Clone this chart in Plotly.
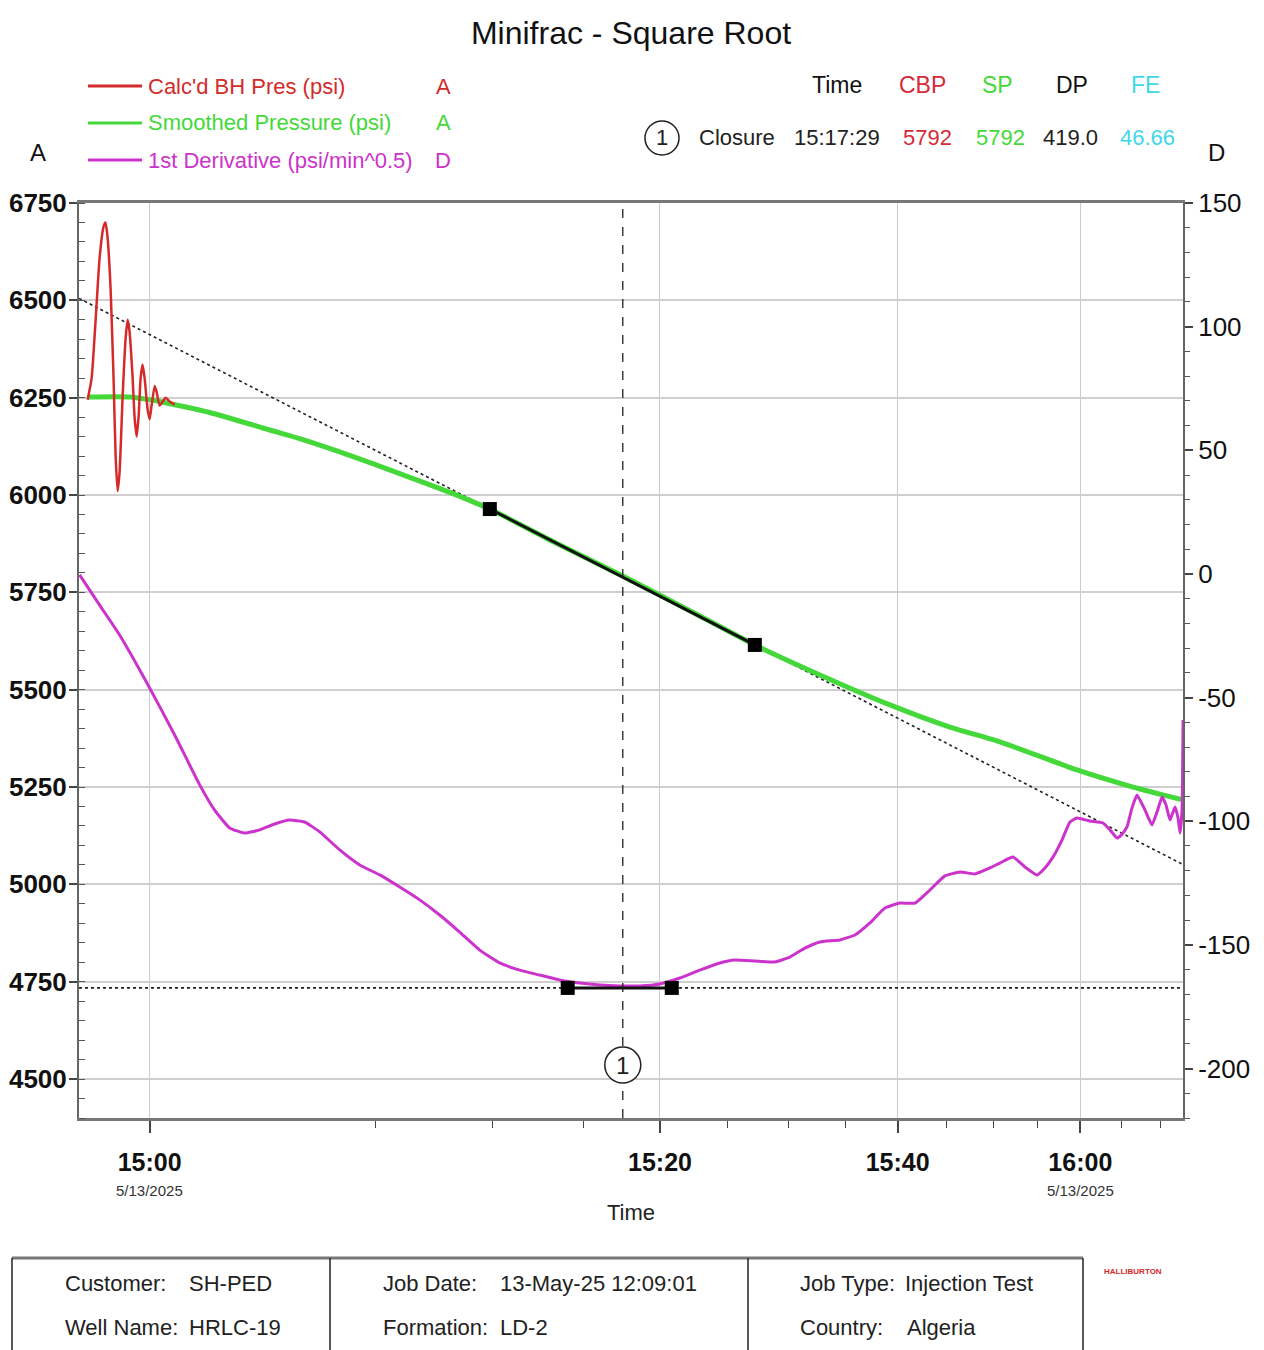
import numpy as np
import plotly.graph_objects as go

# ---------------- data ----------------
SHUT_IN = "14:59:42"
END_TIME = "16:13:00"
CLOSURE_TIME = "15:17:29"

# x values: square root of minutes since shut-in (min^0.5)
red_s = [0.067, 0.098, 0.129, 0.160, 0.191, 0.206, 0.222, 0.245, 0.268, 0.284, 0.299,
         0.315, 0.338, 0.361, 0.377, 0.392, 0.416, 0.431, 0.447, 0.462, 0.478, 0.493,
         0.509, 0.532, 0.548, 0.563, 0.587, 0.602, 0.625, 0.649, 0.672, 0.703, 0.742]
red_psi = [6245, 6300, 6450, 6610, 6690, 6700, 6660, 6530, 6300, 6100, 6010,
           6060, 6250, 6400, 6450, 6420, 6300, 6200, 6150, 6200, 6300, 6335,
           6300, 6220, 6195, 6230, 6280, 6265, 6230, 6240, 6250, 6240, 6232]

green_s = [0.067, 0.393, 0.548, 0.625, 1.013, 1.479, 1.711, 2.099, 2.487, 2.875, 3.186,
           3.69, 4.217, 4.737, 5.241, 5.746, 6.289, 6.754, 7.142, 7.739, 8.174, 8.562]
green_psi = [6252, 6252, 6245, 6240, 6212, 6167, 6145, 6102, 6055, 6007, 5964,
             5878, 5792, 5703, 5615, 5538, 5461, 5404, 5366, 5294, 5250, 5217]

deriv_s = [0.005, 0.160, 0.315, 0.548, 0.742, 0.936, 1.052, 1.168, 1.285, 1.401, 1.517,
           1.634, 1.750, 1.867, 2.022, 2.177, 2.332, 2.487, 2.642, 2.797, 2.952, 3.108,
           3.263, 3.418, 3.573, 3.728, 3.883, 4.038, 4.194, 4.349, 4.504, 4.659, 4.814,
           4.970, 5.086, 5.241, 5.396, 5.513, 5.629, 5.746, 5.901, 6.017, 6.134, 6.250,
           6.366, 6.483, 6.599, 6.715, 6.832, 6.948, 7.064, 7.142, 7.243, 7.336, 7.429,
           7.491, 7.553, 7.623, 7.685, 7.739, 7.840, 7.941, 7.995, 8.050, 8.089, 8.127,
           8.166, 8.205, 8.267, 8.321, 8.360, 8.399, 8.430, 8.461, 8.500, 8.523, 8.539,
           8.554, 8.562]
deriv_val = [-0.4, -12.6, -24.7, -46.1, -65.1, -85.3, -95.5, -102.7, -104.8, -103.5, -101.1,
             -99.5, -100.3, -104.3, -111.6, -117.7, -121.7, -126.6, -131.8, -137.9, -144.8, -152.1,
             -157.3, -160.2, -162.2, -164.2, -165.4, -166.2, -166.6, -166.6, -165.8, -163.4, -160.2,
             -157.3, -156.1, -156.5, -156.9, -154.9, -151.3, -148.8, -148.0, -146.0, -141.1, -135.1,
             -133.1, -133.1, -127.8, -122.1, -120.5, -121.3, -118.9, -116.9, -114.5, -118.5, -121.7,
             -118.9, -114.5, -107.6, -100.3, -98.7, -99.9, -100.7, -103.5, -106.8, -105.2, -102.3,
             -94.6, -89.4, -95.5, -101.5, -96.3, -90.2, -93.4, -99.5, -94.2, -98.7, -104.8,
             -95.5, -59.1]

tangent_s = [3.186, 5.241]       # picked points on smoothed pressure
tangent_psi = [5964, 5615]
flat_s = [3.790, 4.597]          # picked points on derivative
flat_val = [-167.4, -167.4]
closure_label_val = -198.6

major_ticks = ["15:00:00", "15:20:00", "15:40:00", "16:00:00"]
major_labels = ["15:00", "15:20", "15:40", "16:00"]
major_dates = ["5/13/2025", "", "", "5/13/2025"]
minor_ticks = ["15:05:00", "15:10:00", "15:15:00", "15:25:00", "15:30:00", "15:35:00",
               "15:45:00", "15:50:00", "15:55:00", "16:05:00", "16:10:00"]

left_ticks = [4500, 4750, 5000, 5250, 5500, 5750, 6000, 6250, 6500, 6750]
right_ticks = [-200, -150, -100, -50, 0, 50, 100, 150]

# ---------------- helpers ----------------
def minutes(hms):
    h, m, s = (int(v) for v in hms.split(":"))
    return h * 60 + m + s / 60.0


def sqrt_elapsed(hms):
    return float(np.sqrt(minutes(hms) - minutes(SHUT_IN)))


W, H = 1264, 1350
PL, PR, PT, PB = 79, 1183, 203, 1118


def pxx(x):
    return (x - PL) / (PR - PL)


def pyy(y):
    return (PB - y) / (PB - PT)


FONT = "Liberation Sans, Arial, sans-serif"
RED = "#d42a2a"
GREEN = "#45d83a"
MAG = "#cc33cc"
CYAN = "#3fd8e8"

xmax = sqrt_elapsed(END_TIME)
closure_x = sqrt_elapsed(CLOSURE_TIME)

# tangent line extended across the whole axis
slope = (tangent_psi[1] - tangent_psi[0]) / (tangent_s[1] - tangent_s[0])
ext_s = np.array([0.0, xmax])
ext_psi = tangent_psi[0] + slope * (ext_s - tangent_s[0])

fig = go.Figure()

fig.add_trace(go.Scatter(x=ext_s, y=ext_psi, mode="lines",
                         line=dict(color="#222", width=1.6, dash="dot"),
                         hoverinfo="skip", showlegend=False))
fig.add_trace(go.Scatter(x=green_s, y=green_psi, mode="lines", name="Smoothed Pressure (psi)",
                         line=dict(color=GREEN, width=5, shape="spline", smoothing=0.6),
                         showlegend=False))
fig.add_trace(go.Scatter(x=red_s, y=red_psi, mode="lines", name="Calc'd BH Pres (psi)",
                         line=dict(color=RED, width=2.5, shape="spline", smoothing=0.5),
                         showlegend=False))
fig.add_trace(go.Scatter(x=tangent_s, y=tangent_psi, mode="lines+markers",
                         line=dict(color="#111", width=3),
                         marker=dict(symbol="square", size=14, color="#000"),
                         showlegend=False))
fig.add_trace(go.Scatter(x=deriv_s, y=deriv_val, mode="lines", yaxis="y2",
                         name="1st Derivative (psi/min^0.5)",
                         line=dict(color=MAG, width=3, shape="spline", smoothing=0.4),
                         showlegend=False))
fig.add_trace(go.Scatter(x=[0, xmax], y=[flat_val[0], flat_val[0]], mode="lines", yaxis="y2",
                         line=dict(color="#222", width=1.6, dash="dot"),
                         hoverinfo="skip", showlegend=False))
fig.add_trace(go.Scatter(x=flat_s, y=flat_val, mode="lines+markers", yaxis="y2",
                         line=dict(color="#111", width=3),
                         marker=dict(symbol="square", size=14, color="#000"),
                         showlegend=False))

shapes = []
annotations = []


def note(text, x, y, size=22, color="#222", xanchor="center", xref="paper", yref="paper"):
    annotations.append(dict(x=x, y=y, xref=xref, yref=yref, text=text, showarrow=False,
                            xanchor=xanchor, yanchor="middle",
                            font=dict(family=FONT, size=size, color=color)))


# closure vertical dashed line
shapes.append(dict(type="line", xref="x", yref="paper", x0=closure_x, x1=closure_x, y0=0, y1=1,
                   line=dict(color="#222", width=1.3, dash="dash"), layer="above"))
# closure circle marker in plot
shapes.append(dict(type="circle", xref="x", yref="y2", xsizemode="pixel", ysizemode="pixel",
                   xanchor=closure_x, yanchor=closure_label_val, x0=-18, x1=18, y0=-18, y1=18,
                   line=dict(color="#222", width=1.5), fillcolor="white", layer="above"))
note("1", closure_x, closure_label_val, size=24, xref="x", yref="y2")

# legend (custom)
legend_items = [("Calc'd BH Pres (psi)", RED, "A", 86),
                ("Smoothed Pressure (psi)", GREEN, "A", 123),
                ("1st Derivative (psi/min^0.5)", MAG, "D", 160)]
for label, col, ax_letter, yy in legend_items:
    shapes.append(dict(type="line", xref="paper", yref="paper", x0=pxx(88), x1=pxx(142),
                       y0=pyy(yy), y1=pyy(yy), line=dict(color=col, width=3)))
    note(label, pxx(146), pyy(yy), color=col, xanchor="left")
    note(ax_letter, pxx(443), pyy(yy), color=col)

# axis letters
note("A", pxx(38), pyy(153), size=24, color="#111")
note("D", pxx(1216), pyy(153), size=24, color="#111")

# closure table
header = [("Time", "#111", 837), ("CBP", "#d42a3a", 922), ("SP", "#45d83a", 997),
          ("DP", "#111", 1072), ("FE", CYAN, 1145)]
for txt, col, xx in header:
    note(txt, pxx(xx), pyy(85), size=23, color=col)
row = [("Closure", "#222", 737), (CLOSURE_TIME, "#222", 837), ("5792", "#d42a3a", 927),
       ("5792", "#45d83a", 1000), ("419.0", "#222", 1070), ("46.66", CYAN, 1147)]
for txt, col, xx in row:
    note(txt, pxx(xx), pyy(138), color=col)
shapes.append(dict(type="circle", xref="paper", yref="paper", x0=pxx(645), x1=pxx(679),
                   y0=pyy(121), y1=pyy(155), line=dict(color="#222", width=1.5)))
note("1", pxx(662), pyy(138))

# dates under the time tick labels
for t, d in zip(major_ticks, major_dates):
    if d:
        note(d, sqrt_elapsed(t), pyy(1190), size=15, color="#333", xref="x")

# info box at bottom
shapes.append(dict(type="line", xref="paper", yref="paper", x0=pxx(12), x1=pxx(1083),
                   y0=pyy(1258), y1=pyy(1258), line=dict(color="#777", width=3)))
for xx in [12, 330, 748, 1083]:
    shapes.append(dict(type="line", xref="paper", yref="paper", x0=pxx(xx), x1=pxx(xx),
                       y0=pyy(1258), y1=pyy(1352), line=dict(color="#222", width=1.5)))
info = [("Customer:", 63, 1283), ("SH-PED", 187, 1283),
        ("Well Name:", 63, 1327), ("HRLC-19", 187, 1327),
        ("Job Date:", 381, 1283), ("13-May-25 12:09:01", 498, 1283),
        ("Formation:", 381, 1327), ("LD-2", 498, 1327),
        ("Job Type:", 798, 1283), ("Injection Test", 903, 1283),
        ("Country:", 798, 1327), ("Algeria", 905, 1327)]
for txt, xx, yy in info:
    note(txt, pxx(xx), pyy(yy), xanchor="left")
note("<b>HALLIBURTON</b>", pxx(1133), pyy(1271), size=8, color="#d42a2a")

tickvals = [sqrt_elapsed(t) for t in major_ticks]

fig.update_layout(
    width=W, height=H,
    margin=dict(l=PL, r=W - PR, t=PT, b=H - PB, autoexpand=False),
    paper_bgcolor="white", plot_bgcolor="white",
    title=dict(text="Minifrac - Square Root", x=0.5, xanchor="center", xref="paper",
               y=1 - 33 / H, yanchor="middle",
               font=dict(family=FONT, size=32, color="#111")),
    font=dict(family=FONT, color="#111"),
    xaxis=dict(range=[0, xmax], tickmode="array", tickvals=tickvals, ticktext=major_labels,
               automargin=False,
               showgrid=True, gridcolor="#cccccc", gridwidth=1.2, zeroline=False,
               ticks="outside", ticklen=12, tickwidth=1.5, tickcolor="#444",
               ticklabelstandoff=8,
               minor=dict(tickmode="array", tickvals=[sqrt_elapsed(t) for t in minor_ticks],
                          ticks="outside", ticklen=7, tickwidth=1.2, tickcolor="#444",
                          showgrid=False),
               showline=True, linecolor="#777", linewidth=3, mirror=True,
               tickfont=dict(family=FONT, size=25, color="#111", weight="bold"),
               title=dict(text="Time", font=dict(family=FONT, size=22, color="#222"), standoff=30)),
    yaxis=dict(range=[4400, 6750], tickmode="array", tickvals=left_ticks,
               ticktext=[str(v) for v in left_ticks], automargin=False,
               showgrid=True, gridcolor="#cfcfcf", gridwidth=1.5, zeroline=False,
               ticks="outside", ticklen=8, tickwidth=1.5, tickcolor="#444",
               ticklabelstandoff=-3,
               minor=dict(dtick=50, tick0=4500, ticks="inside", ticklen=6, tickwidth=1.2,
                          tickcolor="#555", showgrid=False),
               showline=True, linecolor="#666", linewidth=2,
               tickfont=dict(family=FONT, size=26, color="#111", weight="bold")),
    yaxis2=dict(range=[-220, 150], overlaying="y", side="right", tickmode="array",
                tickvals=right_ticks, ticktext=[str(v) for v in right_ticks], automargin=False,
                showgrid=False, zeroline=False,
                ticks="outside", ticklen=8, tickwidth=1.5, tickcolor="#444",
                minor=dict(dtick=10, tick0=-200, ticks="outside", ticklen=5, tickwidth=1.2,
                           tickcolor="#555", showgrid=False),
                showline=True, linecolor="#666", linewidth=2,
                tickfont=dict(family=FONT, size=26, color="#111")),
    shapes=shapes,
    annotations=annotations,
    showlegend=False,
)

fig.write_html("out.html", config={"displayModeBar": False},
               post_script="document.body.style.margin='0';document.body.style.overflow='hidden';")
